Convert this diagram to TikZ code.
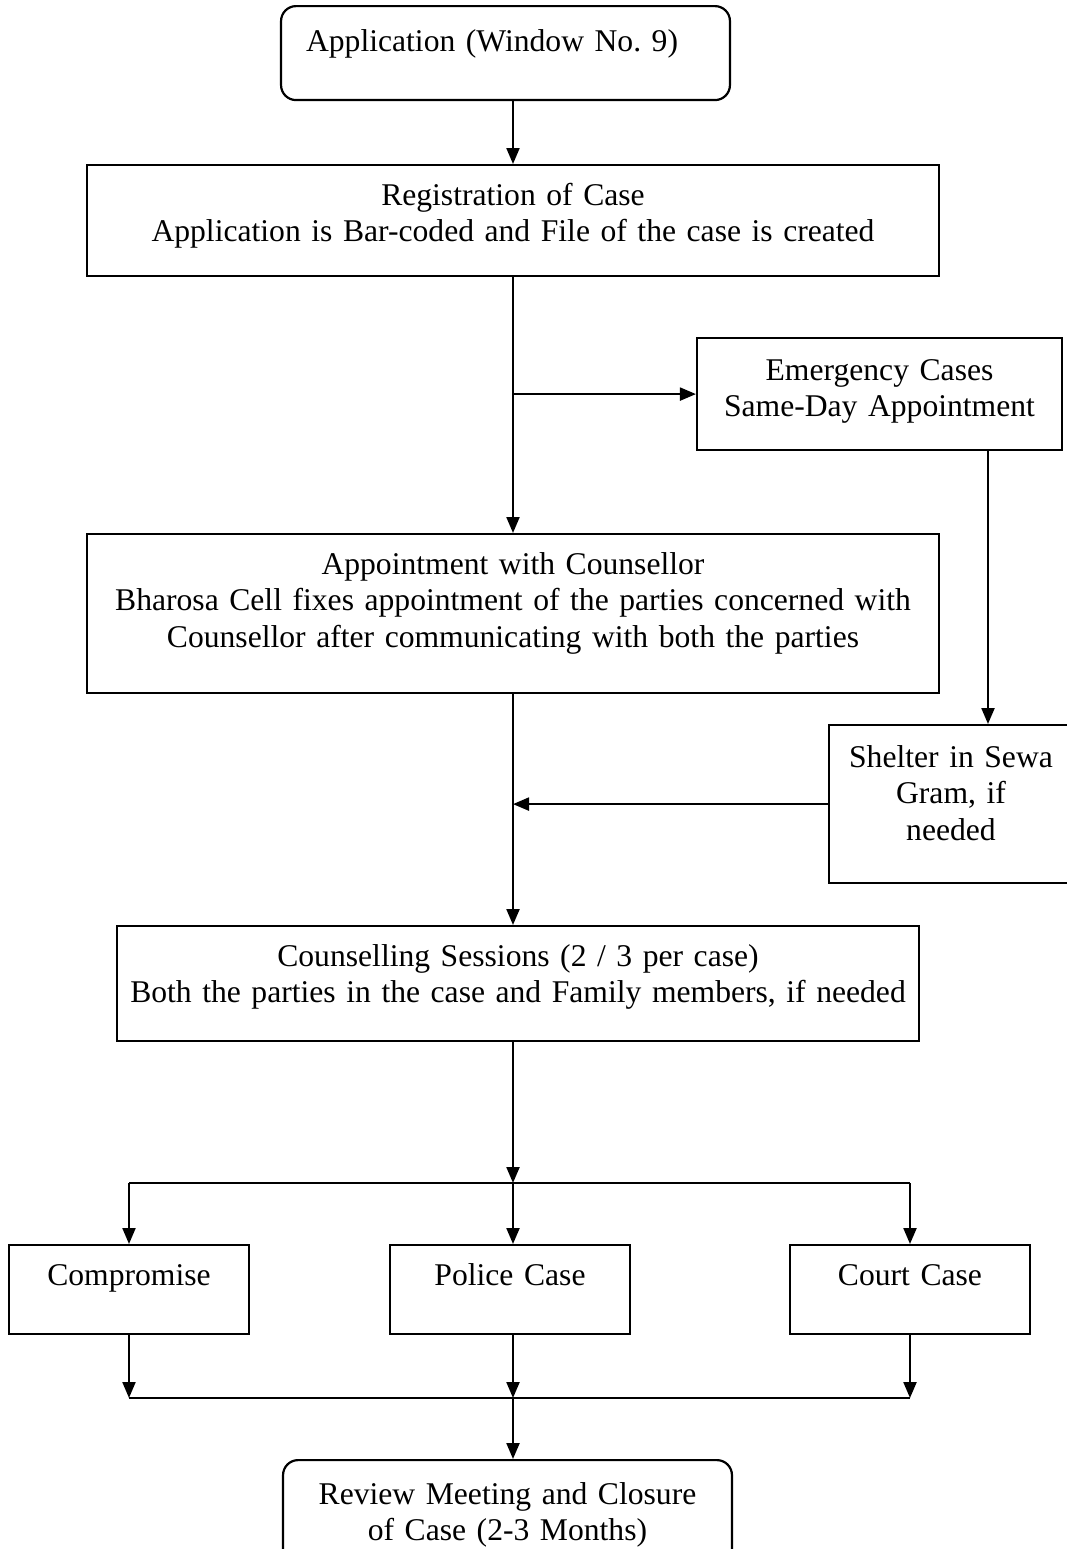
\documentclass[tikz,border=0pt]{standalone}
\usepackage{fontspec}
\setmainfont{Liberation Serif}
\usetikzlibrary{arrows.meta}
\frenchspacing
\begin{document}
\begin{tikzpicture}[x=0.02cm, y=-0.02cm, line width=1.25pt,
    box/.style={draw, anchor=north, inner sep=0pt, align=center, text height=0.8cm, font=\fontsize{18}{20.8}\selectfont},
    arr/.style={-{Triangle[length=0.32cm, width=0.26cm]}}]
                \useasboundingbox (0,0) rectangle (1066,1549);
                \node[box, rounded corners=0.3cm, align=left, inner xsep=0.5cm, text width=7.98cm, text height=0.9cm, text depth=0.98cm] (app) at (505.5,5) {Application (Window No. 9)};
                \node[box, text width=17.04cm, text depth=1.42cm] (reg) at (513,164) {Registration of Case\\Application is Bar-coded and File of the case is created};
                \node[box, text width=7.3cm, text height=0.84cm, text depth=1.4cm] (emerg) at (879.5,337) {Emergency Cases\\Same-Day Appointment};
                \node[box, text width=17.04cm, text depth=2.38cm] (appt) at (513,533) {Appointment with Counsellor\\Bharosa Cell fixes appointment of the parties concerned with\\Counsellor after communicating with both the parties};
                \node[box, text width=4.88cm, text height=0.84cm, text depth=2.32cm] (shelter) at (951,724) {Shelter in Sewa\\Gram, if\\needed};
                \node[box, text width=16.04cm, text depth=1.5cm] (couns) at (518,925) {Counselling Sessions (2 / 3 per case)\\Both the parties in the case and Family members, if needed};
                \node[box, text width=4.8cm, text depth=0.98cm] (comp) at (129,1244) {Compromise}; \node[box, text width=4.8cm, text depth=0.98cm] (police) at (510,1244) {Police Case}; \node[box, text width=4.8cm, text depth=0.98cm] (court) at (910,1244) {Court Case};
                \node[box, rounded corners=0.3cm, text width=8.98cm, text height=0.88cm, text depth=1.32cm] (review) at (507.5,1459) {Review Meeting and Closure\\of Case (2-3 Months)};

                \coordinate (drop) at (988,0); \coordinate (split) at (513,1183); \coordinate (merge) at (513,1398);

                \draw[arr] (reg.north |- app.south) -- (reg.north); \draw[arr] (reg) -- (appt);
                \draw[arr] (reg.south |- emerg.west) -- (emerg.west); \draw[arr] (emerg.south -| drop) -- (shelter.north -| drop);
                \draw[arr] (shelter.west) -- (shelter.west -| appt.south); \draw[arr] (appt) -- (appt |- couns.north);
                \draw[arr] (couns.south -| split) -- (split); \draw (split -| comp) -- (split -| court);
                \draw[arr] (split -| comp) -- (comp); \draw[arr] (split) -- (split |- police.north); \draw[arr] (split -| court) -- (court);
                \draw[arr] (comp) -- (merge -| comp); \draw[arr] (police.south -| merge) -- (merge); \draw[arr] (court) -- (merge -| court);
                \draw (merge -| comp) -- (merge -| court); \draw[arr] (merge) -- (merge |- review.north);
            \end{tikzpicture}
\end{document}
